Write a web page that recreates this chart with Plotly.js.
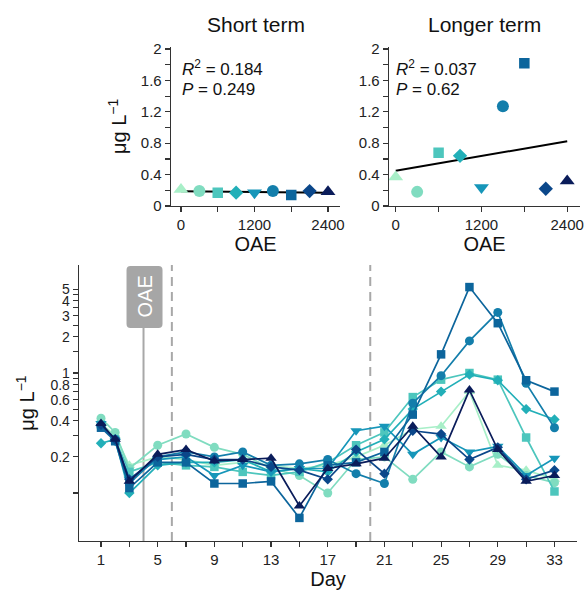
<!DOCTYPE html>
<html>
<head>
<meta charset="utf-8">
<script src="https://cdn.plot.ly/plotly-3.0.1.min.js"></script>
<style>html,body{margin:0;padding:0;background:#fff}#chart{width:586px;height:594px}</style>
</head>
<body>
<div id="chart"></div>
<script>
// ---------------- DATA ----------------
const oaeDose = [0, 300, 600, 900, 1200, 1500, 1800, 2100, 2400];
const treatmentNames = ["0", "300", "600", "900", "1200", "1500", "1800", "2100", "2400"];
const shortTermMean = [0.21, 0.19, 0.17, 0.17, 0.17, 0.19, 0.14, 0.19, 0.18];
const longerTermMean = [0.37, 0.18, 0.68, 0.64, 0.235, 1.27, 1.82, 0.22, 0.32];
const shortStats = ["0.184", "0.249"];   // R2, P
const longerStats = ["0.037", "0.62"];   // R2, P

const days = [1, 2, 3, 5, 7, 9, 11, 13, 15, 17, 19, 21, 23, 25, 27, 29, 31, 33];
const s0    = [0.38, 0.30, 0.17, 0.20, 0.19, 0.17, 0.18, 0.17, 0.16, 0.17, 0.20, 0.25, 0.34, 0.36, 0.70, 0.17, 0.155, 0.13];
const s300  = [0.42, 0.32, 0.16, 0.25, 0.31, 0.24, 0.21, 0.16, 0.14, 0.10, 0.19, 0.20, 0.13, 0.22, 0.165, 0.21, 0.14, 0.122];
const s600  = [0.37, 0.28, 0.15, 0.18, 0.17, 0.165, 0.15, 0.14, 0.15, 0.18, 0.25, 0.32, 0.63, 0.88, 1.00, 0.88, 0.29, 0.103];
const s900  = [0.26, 0.28, 0.10, 0.17, 0.18, 0.18, 0.19, 0.15, 0.16, 0.15, 0.22, 0.28, 0.50, 0.70, 0.97, 0.87, 0.50, 0.41];
const s1200 = [0.38, 0.27, 0.13, 0.19, 0.20, 0.14, 0.17, 0.15, 0.16, 0.16, 0.33, 0.36, 0.21, 0.29, 0.22, 0.245, 0.14, 0.195];
const s1500 = [0.36, 0.28, 0.12, 0.20, 0.22, 0.20, 0.22, 0.17, 0.175, 0.19, 0.145, 0.12, 0.56, 0.95, 1.85, 3.2, 0.82, 0.35];
const s1800 = [0.35, 0.27, 0.11, 0.18, 0.18, 0.12, 0.12, 0.125, 0.062, 0.17, 0.18, 0.22, 0.45, 1.43, 5.2, 2.6, 0.87, 0.70];
const s2100 = [0.37, 0.28, 0.13, 0.20, 0.21, 0.19, 0.19, 0.165, 0.155, 0.13, 0.23, 0.145, 0.33, 0.31, 0.19, 0.24, 0.13, 0.155];
const s2400 = [0.38, 0.28, 0.125, 0.21, 0.23, 0.185, 0.19, 0.195, 0.078, 0.16, 0.175, 0.195, 0.36, 0.20, 0.72, 0.23, 0.125, 0.14];
const timeSeries = [s0, s300, s600, s900, s1200, s1500, s1800, s2100, s2400];

const oaeDay = [4];
const phaseDays = [6, 20];
const dayTicks = [1, 5, 9, 13, 17, 21, 25, 29, 33];
const dayMinorTicks = [3, 7, 11, 15, 19, 23, 27, 31];
const logTicks = [0.2, 0.4, 0.6, 0.8, 1, 2, 3, 4, 5];
const logTickLabels = ["0.2", "0.4", "0.6", "0.8", "1", "2", "3", "4", "5"];
const logMinorTicks = [0.1, 0.3, 0.5, 0.7, 0.9, 1.5, 2.5, 3.5, 4.5];
const insetYTicks = [0, 0.4, 0.8, 1.2, 1.6, 2.0];
const insetYLabels = ["0", "0.4", "0.8", "1.2", "1.6", "2"];
const insetYMinor = [0.2, 0.6, 1.0, 1.4, 1.8];
const insetXTicks = [0, 1200, 2400];
const insetXMinor = [600, 1800];

// ---------------- STYLE ----------------
const colors = ["#a8efc8","#80dcc0","#4dc6bd","#22afb8","#1696b9","#137eab","#0c659c","#0b478a","#0a1c5a"];
const symbols = ["triangle-up","circle","square","diamond","triangle-down","circle","square","diamond","triangle-up"];
const insetSizes = [13,12,10.5,11,13,12,10.5,11,13];
const mainSizes = [10,9,8.5,8,10,9,8.5,8,10];

const W = 586, H = 594;
const fx = p => p / W;
const fy = p => 1 - p / H;
const FONT = "Arial, 'Liberation Sans', Helvetica, sans-serif";
const AX = "#333333";

function linfit(x, y) {
  const n = x.length;
  const mx = x.reduce((a,b)=>a+b,0)/n, my = y.reduce((a,b)=>a+b,0)/n;
  let sxy = 0, sxx = 0;
  for (let i=0;i<n;i++){ sxy += (x[i]-mx)*(y[i]-my); sxx += (x[i]-mx)*(x[i]-mx); }
  const b = sxy/sxx; return {b, a: my - b*mx};
}

const traces = [];
[[shortTermMean,'x','y'],[longerTermMean,'x2','y2']].forEach(([vals, xa, ya]) => {
  const f = linfit(oaeDose, vals);
  const xl = [oaeDose[0], oaeDose[oaeDose.length-1]];
  traces.push({x: xl, y: xl.map(v => f.a + f.b*v), xaxis: xa, yaxis: ya, mode: 'lines',
    line: {color: '#000', width: 2}, showlegend: false, hoverinfo: 'skip'});
  oaeDose.forEach((d, i) => {
    traces.push({x: [d], y: [vals[i]], xaxis: xa, yaxis: ya, mode: 'markers', name: treatmentNames[i],
      marker: {symbol: symbols[i], color: colors[i], size: insetSizes[i], line: {width: 0}}, showlegend: false});
  });
});
timeSeries.forEach((ser, i) => {
  traces.push({x: days, y: ser, xaxis: 'x3', yaxis: 'y3', mode: 'lines+markers', name: treatmentNames[i],
    line: {color: colors[i], width: 1.7},
    marker: {symbol: symbols[i], color: colors[i], size: mainSizes[i], line: {width: 0}}, showlegend: false});
});

const tickFont = {family: FONT, size: 15, color: '#222'};
const logTickFont = {family: FONT, size: 14, color: '#222'};
const titleFont = {family: FONT, size: 20, color: '#111'};
function baseAxis(extra, minorVals) {
  const ax = Object.assign({showgrid: false, zeroline: false, showline: true, linecolor: AX, linewidth: 1.3,
    ticks: 'outside', ticklen: 5, tickwidth: 1.2, tickcolor: AX, tickfont: tickFont, automargin: false,
    tickmode: 'array', fixedrange: true}, extra);
  if (minorVals) ax.minor = {tickmode: 'array', tickvals: minorVals, ticks: 'outside', ticklen: 5,
    tickwidth: 1.2, tickcolor: AX, showgrid: false};
  return ax;
}

const layout = {
  width: W, height: H, margin: {l: 0, r: 0, t: 0, b: 0},
  paper_bgcolor: '#fff', plot_bgcolor: '#fff', showlegend: false,
  font: {family: FONT, color: '#111'},
  xaxis: baseAxis({domain: [fx(171), fx(340)], range: [-163, 2596], anchor: 'y',
    tickvals: insetXTicks, ticktext: insetXTicks.map(String), title: {text: 'OAE', font: titleFont, standoff: 4}}, insetXMinor),
  yaxis: baseAxis({domain: [fy(206), fy(46.7)], range: [0, 2.03], anchor: 'x',
    tickvals: insetYTicks, ticktext: insetYLabels, title: {text: 'μg L<sup>−1</sup>', font: titleFont, standoff: 8}}, insetYMinor),
  xaxis2: baseAxis({domain: [fx(389), fx(580)], range: [-94, 2579], anchor: 'y2',
    tickvals: insetXTicks, ticktext: insetXTicks.map(String), title: {text: 'OAE', font: titleFont, standoff: 4}}, insetXMinor),
  yaxis2: baseAxis({domain: [fy(206), fy(46.7)], range: [0, 2.03], anchor: 'x2',
    tickvals: insetYTicks, ticktext: insetYLabels}, insetYMinor),
  xaxis3: baseAxis({domain: [fx(79), fx(577)], range: [-0.553, 34.59], anchor: 'y3',
    tickvals: dayTicks, ticktext: dayTicks.map(String), title: {text: 'Day', font: titleFont, standoff: 0}}, dayMinorTicks),
  yaxis3: baseAxis({domain: [fy(541), fy(265)], type: 'log', range: [-1.4, 0.9], anchor: 'x3', tickfont: logTickFont,
    tickvals: logTicks, ticktext: logTickLabels, title: {text: 'μg L<sup>−1</sup>', font: titleFont, standoff: 10}}, logMinorTicks),
  shapes: [
    {type: 'line', xref: 'x3', yref: 'paper', x0: oaeDay[0], x1: oaeDay[0], y0: fy(541), y1: fy(328),
      line: {color: '#a8a8a8', width: 2}, layer: 'below'},
    ...phaseDays.map(d => ({type: 'line', xref: 'x3', yref: 'paper', x0: d, x1: d, y0: fy(541), y1: fy(265),
      line: {color: '#a8a8a8', width: 2, dash: '9px,6px'}, layer: 'below'})),
    {type: 'path', xref: 'x3', xsizemode: 'pixel', xanchor: oaeDay[0], yref: 'paper', ysizemode: 'pixel', yanchor: fy(266),
      path: 'M -13,0 H 15 Q 19,0 19,-4 V -58 Q 19,-62 15,-62 H -13 Q -17,-62 -17,-58 V -4 Q -17,0 -13,0 Z',
      fillcolor: '#a6a6a6', line: {width: 0}, layer: 'above'}
  ],
  annotations: [
    {text: 'Short term', x: fx(256), y: fy(24), xref: 'paper', yref: 'paper', showarrow: false,
      xanchor: 'center', yanchor: 'middle', font: {family: FONT, size: 21, color: '#111'}},
    {text: 'Longer term', x: fx(484), y: fy(24), xref: 'paper', yref: 'paper', showarrow: false,
      xanchor: 'center', yanchor: 'middle', font: {family: FONT, size: 21, color: '#111'}},
    {text: '<i>R</i><sup>2</sup> = ' + shortStats[0], x: fx(180), y: fy(68), xref: 'paper', yref: 'paper', showarrow: false,
      xanchor: 'left', yanchor: 'middle', font: {family: FONT, size: 17, color: '#111'}},
    {text: '<i>P</i> = ' + shortStats[1], x: fx(180), y: fy(89), xref: 'paper', yref: 'paper', showarrow: false,
      xanchor: 'left', yanchor: 'middle', font: {family: FONT, size: 17, color: '#111'}},
    {text: '<i>R</i><sup>2</sup> = ' + longerStats[0], x: fx(394), y: fy(68), xref: 'paper', yref: 'paper', showarrow: false,
      xanchor: 'left', yanchor: 'middle', font: {family: FONT, size: 17, color: '#111'}},
    {text: '<i>P</i> = ' + longerStats[1], x: fx(394), y: fy(89), xref: 'paper', yref: 'paper', showarrow: false,
      xanchor: 'left', yanchor: 'middle', font: {family: FONT, size: 17, color: '#111'}},
    {text: 'OAE', x: oaeDay[0], xref: 'x3', xshift: 1, y: fy(297), yref: 'paper', showarrow: false, textangle: -90,
      xanchor: 'center', yanchor: 'middle', font: {family: FONT, size: 20, color: '#fff'}}
  ]
};

Plotly.newPlot('chart', traces, layout, {staticPlot: true, displayModeBar: false});
</script>
</body>
</html>
